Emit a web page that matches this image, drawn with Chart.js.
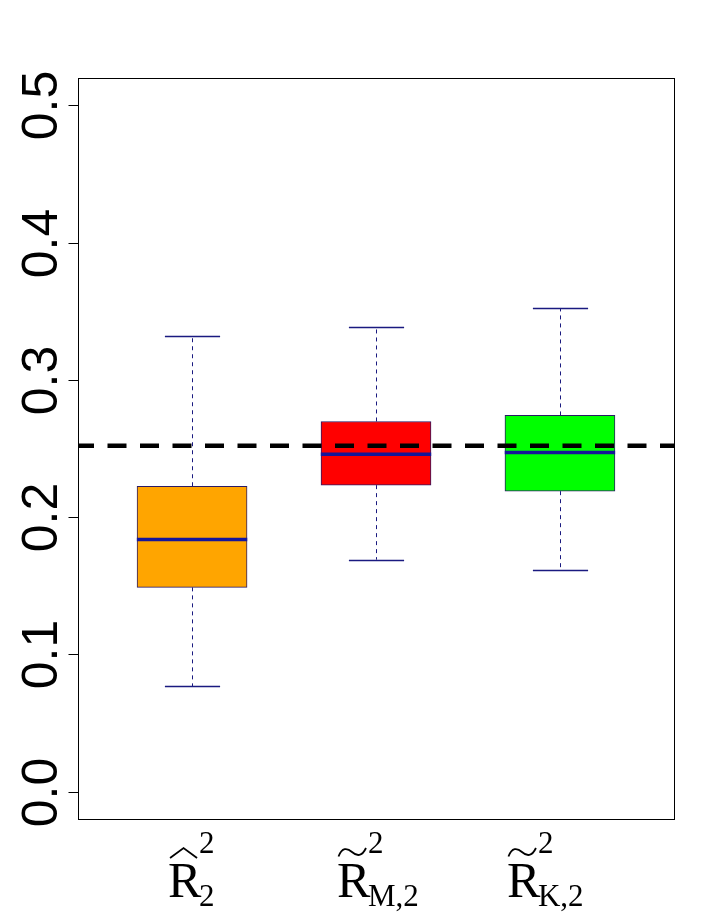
<!DOCTYPE html>
<html>
<head>
<meta charset="utf-8">
<script src="https://cdn.jsdelivr.net/npm/chart.js@4.4.1/dist/chart.umd.min.js"></script>
<style>
html,body{margin:0;padding:0;background:#fff;}
#wrap{width:715px;height:917px;position:relative;}
</style>
</head>
<body>
<div id="wrap"><canvas id="c" width="715" height="917"></canvas></div>
<script>
// ---- data ----
const categories = ["R2hat", "R2tilde_M", "R2tilde_K"];
const positions = [1, 2, 3];
const whiskerLow = [0.0766, 0.1690, 0.1612];
const q1 = [0.1488, 0.2233, 0.2189];
const medians = [0.1836, 0.2459, 0.2471];
const q3 = [0.2225, 0.2697, 0.2741];
const whiskerHigh = [0.3320, 0.3383, 0.3524];
const referenceValue = 0.252;
const yTicks = [0.0, 0.1, 0.2, 0.3, 0.4, 0.5];
const yTickLabels = ["0.0", "0.1", "0.2", "0.3", "0.4", "0.5"];
// label parts: main letter, accent, superscript, subscript
const labelAccent = ["hat", "tilde", "tilde"];
const labelSup = ["2", "2", "2"];
const labelSub = ["2", "M,2", "K,2"];

// ---- styles ----
const boxColors = ["#FFA500", "#FF0000", "#00FF00"];
const boxBorder = "#2a1a66";
const whiskerColor = "#1a1a80";
const medianColor = "#16169a";
const labelShift = [-23, -38, -52];

const boxData = positions.map((p, i) => ({x: p, y: [q1[i], q3[i]]}));

const overlay = {
  id: 'overlay',
  beforeDatasetsDraw(chart) {
    const ctx = chart.ctx, xs = chart.scales.x, ys = chart.scales.y;
    ctx.save();
    positions.forEach((p, i) => {
      const x = Math.round(xs.getPixelForValue(p)) + 0.5;
      const capHalf = (xs.getPixelForValue(p + 0.15) - xs.getPixelForValue(p));
      ctx.strokeStyle = whiskerColor;
      ctx.lineWidth = 1;
      ctx.setLineDash([4, 4]);
      ctx.beginPath();
      ctx.moveTo(x, ys.getPixelForValue(q3[i]));
      ctx.lineTo(x, ys.getPixelForValue(whiskerHigh[i]));
      ctx.moveTo(x, ys.getPixelForValue(q1[i]));
      ctx.lineTo(x, ys.getPixelForValue(whiskerLow[i]));
      ctx.stroke();
      ctx.setLineDash([]);
      ctx.lineWidth = 1.3;
      ctx.beginPath();
      const yh = Math.round(ys.getPixelForValue(whiskerHigh[i])) + 0.5;
      const yl = Math.round(ys.getPixelForValue(whiskerLow[i])) + 0.5;
      ctx.moveTo(x - capHalf, yh); ctx.lineTo(x + capHalf, yh);
      ctx.moveTo(x - capHalf, yl); ctx.lineTo(x + capHalf, yl);
      ctx.stroke();
    });
    ctx.restore();
  },
  afterDatasetsDraw(chart) {
    const ctx = chart.ctx, xs = chart.scales.x, ys = chart.scales.y;
    ctx.save();
    positions.forEach((p, i) => {
      const x0 = xs.getPixelForValue(p - 0.3), x1 = xs.getPixelForValue(p + 0.3);
      const y = ys.getPixelForValue(medians[i]);
      ctx.strokeStyle = medianColor;
      ctx.lineWidth = 3.5;
      ctx.beginPath(); ctx.moveTo(x0, y); ctx.lineTo(x1, y); ctx.stroke();
    });
    ctx.restore();
  },
  afterDraw(chart) {
    const ctx = chart.ctx, xs = chart.scales.x, ys = chart.scales.y;
    const a = chart.chartArea;
    ctx.save();
    ctx.strokeStyle = '#000'; ctx.lineWidth = 1;
    ctx.strokeRect(Math.round(a.left) + 0.5, Math.round(a.top) + 0.5,
                   Math.round(a.right - a.left), Math.round(a.bottom - a.top));
    ctx.fillStyle = '#000';
    ctx.font = '50px "Liberation Sans", Arial, sans-serif';
    ctx.textAlign = 'center';
    ctx.textBaseline = 'alphabetic';
    yTicks.forEach((v, i) => {
      const y = Math.round(ys.getPixelForValue(v)) + 0.5;
      ctx.beginPath(); ctx.moveTo(a.left - 9.5, y); ctx.lineTo(a.left + 0.5, y); ctx.stroke();
      ctx.save();
      ctx.translate(57, y);
      ctx.rotate(-Math.PI / 2);
      ctx.fillText(yTickLabels[i], 0, 0);
      ctx.restore();
    });
    positions.forEach((p, i) => {
      const xc = xs.getPixelForValue(p);
      const xl = xc + labelShift[i];
      ctx.textAlign = 'left';
      ctx.font = '50px "Liberation Serif", "Times New Roman", serif';
      ctx.fillText('R', xl - 1, 897);
      ctx.font = '31px "Liberation Serif", "Times New Roman", serif';
      ctx.fillText(labelSup[i], xl + 30, 853);
      ctx.fillText(labelSub[i], xl + 30, 906);
      ctx.strokeStyle = '#000';
      ctx.lineWidth = 1.8;
      ctx.beginPath();
      if (labelAccent[i] === 'hat') {
        ctx.moveTo(xl + 1, 858);
        ctx.lineTo(xl + 14.5, 848);
        ctx.lineTo(xl + 28, 858);
      } else {
        ctx.moveTo(xl + 0.5, 856.5);
        ctx.bezierCurveTo(xl + 4, 847.5, xl + 9, 847.5, xl + 14, 852);
        ctx.bezierCurveTo(xl + 19, 856.5, xl + 24, 856.5, xl + 28, 848);
      }
      ctx.stroke();
    });
    ctx.restore();
  }
};

new Chart(document.getElementById('c'), {
  data: {
    datasets: [
      {
        type: 'line',
        order: 0,
        data: [{x: 0.38, y: referenceValue}, {x: 3.62, y: referenceValue}],
        borderColor: '#000',
        borderWidth: 4.5,
        borderDash: [19, 13.5],
        borderDashOffset: 3,
        pointRadius: 0,
        fill: false
      },
      {
        type: 'bar',
        order: 1,
        data: boxData,
        backgroundColor: boxColors,
        borderColor: boxBorder,
        borderWidth: 1,
        borderSkipped: false,
        barThickness: 110
      }
    ]
  },
  options: {
    responsive: false,
    animation: false,
    devicePixelRatio: 1,
    layout: {padding: {left: 78, right: 41, top: 78, bottom: 98}},
    plugins: {legend: {display: false}, tooltip: {enabled: false}},
    scales: {
      x: {type: 'linear', min: 0.38, max: 3.62, offset: false, display: false},
      y: {type: 'linear', min: -0.02, max: 0.52, display: false}
    }
  },
  plugins: [overlay]
});
</script>
</body>
</html>
